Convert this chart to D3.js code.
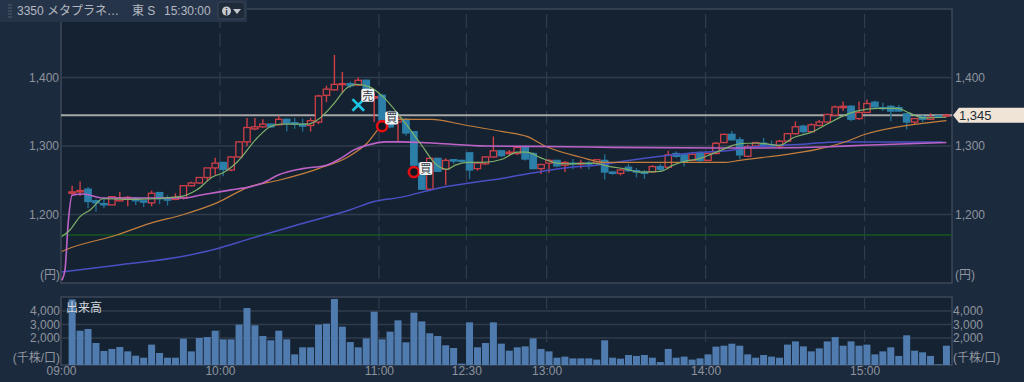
<!DOCTYPE html>
<html>
<head>
<meta charset="utf-8">
<script src="https://cdn.jsdelivr.net/npm/d3@7/dist/d3.min.js"></script>
<style>
  html, body { margin: 0; padding: 0; background: #1c2a3e; overflow: hidden; }
  text { font-family: "Liberation Sans", "Noto Sans CJK JP", sans-serif; }
</style>
</head>
<body>
<div id="chart"></div>
<script>
// 3 minute candles, slot 49 is the lunch break
const opens = [1231,1233,1237,1220,1216,1214,1220,1223,1224,1220,1217,1232,1224,1222,1224,1242,1246,1254,1268,1276,1265,1284,1306,1325,1328,1332,1331,1339,1334,1332,1330,1335,1374,1382,1390,1391,1389,1396,1370,1374,1348,1335,1339,1321,1275,1237,1282,1266,1280,1279,1290,1267,1274,1284,1293,1289,1289,1298,1289,1267,1275,1279,1272,1275,1274,1275,1275,1279,1262,1260,1269,1264,1262,1262,1270,1269,1289,1287,1279,1289,1279,1289,1305,1317,1309,1285,1300,1304,1302,1300,1307,1318,1329,1321,1330,1335,1345,1356,1358,1340,1349,1364,1356,1358,1356,1347,1335,1343,1339,1344,1344];
const highs = [1242,1248,1240,1222,1224,1227,1233,1227,1225,1221,1235,1233,1228,1231,1243,1248,1254,1268,1283,1277,1285,1307,1341,1341,1339,1333,1344,1340,1341,1340,1341,1375,1388,1433,1408,1394,1400,1397,1378,1376,1352,1342,1341,1322,1276,1283,1283,1282,1281,1280,1291,1277,1285,1314,1294,1294,1299,1299,1291,1274,1281,1280,1278,1281,1280,1278,1281,1288,1263,1267,1274,1268,1265,1272,1274,1293,1292,1288,1289,1292,1290,1306,1318,1322,1313,1302,1306,1312,1308,1309,1319,1336,1331,1333,1338,1347,1359,1365,1360,1365,1368,1366,1363,1359,1360,1348,1341,1345,1348,1345,1347];
const lows = [1228,1227,1209,1204,1209,1214,1219,1212,1214,1211,1212,1215,1213,1221,1222,1241,1245,1248,1258,1256,1263,1283,1300,1323,1327,1327,1330,1321,1325,1321,1321,1332,1364,1381,1377,1385,1388,1370,1335,1330,1326,1306,1315,1272,1237,1236,1262,1243,1274,1276,1252,1264,1272,1283,1284,1286,1287,1279,1266,1259,1261,1269,1262,1266,1267,1266,1273,1251,1258,1257,1262,1254,1252,1261,1262,1266,1283,1270,1278,1275,1278,1288,1304,1308,1281,1284,1299,1299,1298,1296,1306,1317,1318,1320,1329,1334,1344,1351,1336,1338,1348,1356,1351,1336,1350,1324,1332,1335,1338,1343,1344];
const closes = [1233,1235,1219,1217,1214,1226,1224,1225,1220,1218,1231,1223,1221,1225,1242,1246,1254,1268,1275,1266,1284,1306,1327,1328,1332,1328,1339,1333,1332,1329,1337,1373,1383,1390,1391,1388,1396,1379,1372,1334,1328,1341,1319,1272,1237,1282,1263,1279,1278,1278,1265,1275,1284,1293,1286,1291,1298,1281,1267,1273,1279,1271,1276,1274,1275,1274,1280,1262,1260,1265,1264,1262,1260,1270,1266,1287,1285,1277,1288,1279,1289,1304,1317,1309,1287,1299,1305,1300,1300,1307,1318,1328,1321,1331,1335,1346,1357,1358,1339,1349,1362,1357,1355,1351,1351,1335,1340,1339,1342,1343,1345];
const volumes = [4860,2540,2670,1630,1040,1190,1330,1010,690,540,1510,890,540,540,1950,1010,2000,2070,2540,1900,1900,2990,4220,2940,2150,1830,2540,1900,790,1310,1310,2990,3060,4890,2840,1700,1310,1975,3950,1900,2470,3310,1680,3880,3230,2350,2150,1460,1260,100,3160,1310,1630,3160,1580,1060,1310,1380,1975,1190,1010,540,620,490,490,490,400,1830,540,470,740,670,740,540,220,1190,540,620,400,490,790,1360,1430,1580,1430,790,540,740,620,540,1510,1750,1380,1010,1230,1750,2070,1430,1750,1430,1510,790,1010,1310,670,2200,1060,940,670,50,1430];

// moving averages: slot / value pairs
const greenSlots = [-1.3,-0.3,1,2.3,3.9,8,13.6,15.7,17.7,19,20.8,23.3,24.9,26.2,29.6,31.2,32.8,34.6,35.8,37.5,39.1,41.6,43.8,45.9,47.2,48.2,49.7,51.7,54.2,56,57.2,58.9,61,62.6,65.5,67.7,69.8,71.4,74,75.6,76.9,79,80.2,81.9,83.1,84.9,86.5,89,90.7,93.2,95,97,98.7,101.3,103.8,105.4,107,110];
const greenValues = [1168,1177,1197,1207,1223,1222,1226,1236,1255,1261,1277,1312,1328,1332,1332,1341,1360,1385,1390,1386,1372,1338,1304,1272,1266,1272,1276,1276,1281,1291,1291,1283,1275,1274,1275,1270,1266,1262,1263,1272,1277,1282,1287,1295,1301,1304,1304,1301,1312,1321,1332,1344,1351,1355,1355,1348,1341,1342];
const orangeSlots = [-1.3,-0.7,5.6,9.8,14,18.2,22.2,26,31,34.7,37.1,39.1,41.3,45.2,49.2,54.2,57.2,59.7,63.9,67,70,78,82,84,86,89.5,93.7,97.5,99.5,104,106.3,110];
const orangeValues = [1146,1149,1170,1187,1200,1217,1240,1250,1267,1284,1304,1331,1339,1339,1331,1321,1314,1299,1284,1276,1276,1276,1276,1279,1282,1287,1295,1307,1316,1328,1332,1337];
const purpleSlots = [-1.3,-0.9,-0.5,0,1.4,3.9,14,16,20,22.2,24,26,29,32,33.8,35.4,37.1,39.5,41.3,45.7,52,62.5,68,81.7,85,95.3,99.5,110];
const purpleValues = [1104,1119,1187,1228,1230,1224,1224,1228,1236,1240,1246,1258,1267,1272,1282,1294,1301,1306,1306,1304,1300,1299,1298,1297,1297,1299,1301,1305];
const blueSlots = [-1.3,5.6,14,18.2,22.2,28.7,35,38,41.3,45.9,54.2,62.7,66,70,74,79,82.4,85,92.4,96.2,109.5];
const blueValues = [1116,1126,1139,1150,1164,1186,1207,1219,1225,1238,1253,1269,1272,1279,1285,1291,1293,1298,1303,1306,1306];

const priceTicks = [1200, 1300, 1400];
const volumeTicks = [2000, 3000, 4000];
const timeSlots = [-1.4, 18.6, 38.6, 49.6, 59.7, 79.7, 99.7];
const timeLabels = ["09:00", "10:00", "11:00", "12:30", "13:00", "14:00", "15:00"];
const lastPrice = 1345;
const lowLine = 1170;

// trade marks
const entrySlots = [39, 43];
const entryPrices = [1329, 1262];
const exitSlots = [36];
const exitPrices = [1360];
const tagSlots = [37.2, 40.2, 44.5];
const tagPrices = [1374, 1341, 1267];
const tagTexts = ["売", "買", "買"];

const width = 1024, height = 382;
const left = 61, right = 952;
const svg = d3.select("#chart").append("svg")
  .attr("width", width).attr("height", height)
  .style("display", "block");

const x = d3.scaleLinear().domain([-1.4, 110.7]).range([left, right]);
const y = d3.scaleLinear().domain([1400, 1107]).range([77.5, 278.2]);
const yVol = d3.scaleLinear().domain([0, 5037]).range([365, 297]);

const textColor = "#8d949d", gridColor = "#303c4d", frameColor = "#3d4859";

// plot backgrounds
[[9, 283], [297, 365]].forEach(([t, b]) => {
  svg.append("rect").attr("x", left).attr("y", t).attr("width", right - left).attr("height", b - t)
    .attr("fill", "#152231").attr("stroke", frameColor).attr("stroke-width", 1.5);
});

// grid
function hGrid(ticks, scale) {
  svg.append("g").selectAll("line").data(ticks).enter().append("line")
    .attr("x1", left).attr("x2", right)
    .attr("y1", d => scale(d)).attr("y2", d => scale(d))
    .attr("stroke", gridColor).attr("stroke-width", 1.5);
}
hGrid(priceTicks, y);
hGrid(volumeTicks, yVol);

function vGrid(t, b, dash) {
  svg.append("g").selectAll("line").data(timeSlots.slice(1)).enter().append("line")
    .attr("x1", d => x(d)).attr("x2", d => x(d))
    .attr("y1", t).attr("y2", b)
    .attr("stroke", gridColor).attr("stroke-width", 1.2)
    .attr("stroke-dasharray", dash);
}
vGrid(14, 283, "14,5.3");
vGrid(297, 365, "12,21");

// left + right axes
function priceAxis(axis, tx, ticks, scale) {
  const g = svg.append("g").attr("transform", `translate(${tx},0)`)
    .call(axis(scale).tickValues(ticks).tickFormat(d3.format(",")).tickSize(0).tickPadding(0));
  g.select(".domain").remove();
  g.selectAll("text").attr("fill", textColor).style("font-size", "12px");
}
priceAxis(d3.axisLeft, 59, priceTicks, y);
priceAxis(d3.axisRight, 955, priceTicks, y);
priceAxis(d3.axisLeft, 60, volumeTicks, yVol);
priceAxis(d3.axisRight, 953, volumeTicks, yVol);

const timeAxis = svg.append("g").attr("transform", "translate(0,365)")
  .call(d3.axisBottom(x).tickValues(timeSlots).tickFormat((d, i) => timeLabels[i]).tickSize(0).tickPadding(1));
timeAxis.select(".domain").remove();
timeAxis.selectAll("text").attr("fill", textColor).style("font-size", "12px");

function label(tx, ty, str, anchor, color, size) {
  svg.append("text").attr("x", tx).attr("y", ty).attr("text-anchor", anchor || "start")
    .attr("fill", color || textColor).style("font-size", (size || 12) + "px").text(str);
}
label(60, 279, "(円)", "end");
label(955, 279, "(円)");
label(60, 362, "(千株/口)", "end");
label(953, 362, "(千株/口)");

// reference lines
svg.append("line").attr("x1", left).attr("x2", right).attr("y1", y(lowLine)).attr("y2", y(lowLine))
  .attr("stroke", "#14591f").attr("stroke-width", 1.5);
svg.append("line").attr("x1", left).attr("x2", right).attr("y1", y(lastPrice)).attr("y2", y(lastPrice))
  .attr("stroke", "#a5a7a8").attr("stroke-width", 2);

// candles
const slots = d3.range(opens.length);
const isUp = i => closes[i] > opens[i];
const upColor = "#cf3f48", downColor = "#2b7fa8";
const candleW = 6.4;

svg.append("g").selectAll("line").data(slots).enter().append("line")
  .attr("x1", i => x(i)).attr("x2", i => x(i))
  .attr("y1", i => y(highs[i])).attr("y2", i => y(lows[i]))
  .attr("stroke", i => isUp(i) ? upColor : "#236c90").attr("stroke-width", 1.4);

svg.append("g").selectAll("rect").data(slots).enter().append("rect")
  .attr("x", i => x(i) - candleW / 2)
  .attr("y", i => y(Math.max(opens[i], closes[i])))
  .attr("width", candleW)
  .attr("height", i => Math.max(1, Math.abs(y(opens[i]) - y(closes[i]))))
  .attr("fill", i => isUp(i) ? "#152231" : downColor)
  .attr("stroke", i => isUp(i) ? upColor : downColor)
  .attr("stroke-width", 1.3);

// average lines
function avgLine(sx, sy, color, w) {
  const line = d3.line().curve(d3.curveMonotoneX).x((d, i) => x(sx[i])).y(d => y(d));
  svg.append("path").datum(sy).attr("d", line)
    .attr("fill", "none").attr("stroke", color).attr("stroke-width", w || 1.2);
}
avgLine(blueSlots, blueValues, "#4a4fc4", 1.5);
avgLine(orangeSlots, orangeValues, "#c47f3e", 1.2);
avgLine(purpleSlots, purpleValues, "#bd63c8", 1.6);
avgLine(greenSlots, greenValues, "#7fb06a", 1.2);

// volume
const volW = 7;
svg.append("g").selectAll("rect").data(volumes).enter().append("rect")
  .attr("x", (d, i) => x(i) - volW / 2)
  .attr("y", d => yVol(d))
  .attr("width", volW)
  .attr("height", d => yVol(0) - yVol(d))
  .attr("fill", "#4f7bae");
label(66, 312, "出来高", "start", "#d3d7dc", 12);

// entry / exit marks
svg.append("g").selectAll("circle").data(entrySlots).enter().append("circle")
  .attr("cx", d => x(d)).attr("cy", (d, i) => y(entryPrices[i])).attr("r", 5)
  .attr("fill", "#10161f").attr("stroke", "#e30d14").attr("stroke-width", 2.6);
const cross = d3.symbol().type(d3.symbolTimes).size(90);
svg.append("g").selectAll("path").data(exitSlots).enter().append("path")
  .attr("d", cross)
  .attr("transform", (d, i) => `translate(${x(d)},${y(exitPrices[i])})`)
  .attr("fill", "none").attr("stroke", "#1cc4e4").attr("stroke-width", 2.6);

const tags = svg.append("g").selectAll("g").data(tagTexts).enter().append("g")
  .attr("transform", (d, i) => `translate(${x(tagSlots[i])},${y(tagPrices[i])})`);
tags.append("rect").attr("x", -6.5).attr("y", -6.5).attr("width", 13).attr("height", 13).attr("rx", 2)
  .attr("fill", "#f1f2f2");
tags.append("text").attr("text-anchor", "middle").attr("y", 4.5)
  .attr("fill", "#2f3a46").style("font-size", "11px").text(d => d);

// price flag on the right
svg.append("path").datum(lastPrice)
  .attr("d", d => d3.line()([[953, y(d)], [959, y(d) - 7.5], [1024, y(d) - 7.5], [1024, y(d) + 7.5], [959, y(d) + 7.5]]) + "Z")
  .attr("fill", "#efe4d6");
svg.append("text").attr("x", 959).attr("y", y(lastPrice) + 4.5)
  .attr("fill", "#222b35").style("font-size", "13px").text(d3.format(",")(lastPrice));

// header strip
svg.append("rect").attr("x", 0).attr("y", 0).attr("width", 247).attr("height", 22).attr("fill", "#26344a");
svg.append("g").selectAll("rect").data(d3.range(5)).enter().append("rect")
  .attr("x", 8).attr("y", d => 4 + d * 3).attr("width", 4).attr("height", 2).attr("fill", "#3b475a");
label(17, 14.5, "3350 メタプラネ…", "start", "#b3b8c0", 12);
label(132, 14.5, "東 S", "start", "#b3b8c0", 12);
label(164, 14.5, "15:30:00", "start", "#b3b8c0", 12);
svg.append("rect").attr("x", 218).attr("y", 2).attr("width", 27).attr("height", 17).attr("rx", 3)
  .attr("fill", "#1f2a3a").attr("stroke", "#3a4454");
svg.append("circle").attr("cx", 226.5).attr("cy", 11).attr("r", 4.5).attr("fill", "#c5c8cc");
svg.append("text").attr("x", 226.5).attr("y", 14.5).attr("text-anchor", "middle")
  .attr("fill", "#1f2a3a").style("font-size", "9px").style("font-weight", "bold").text("i");
svg.append("path").attr("d", "M233,9h8l-4,5z").attr("fill", "#c5c8cc");
</script>
</body>
</html>
